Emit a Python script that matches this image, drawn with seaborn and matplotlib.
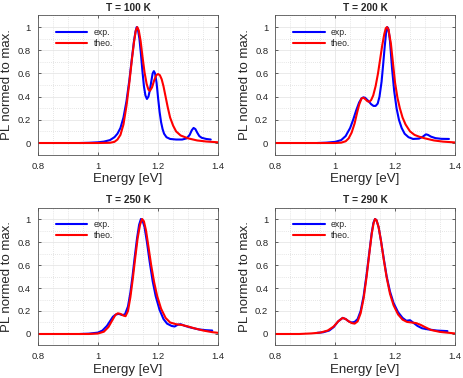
#!/usr/bin/python3
#
# PL spectra, experiment vs theory, at four temperatures

import pandas as pd
import seaborn as sns
import matplotlib.pyplot as plt
from matplotlib.ticker import MultipleLocator, FormatStrFormatter

temps = ["T = 100 K", "T = 200 K", "T = 250 K", "T = 290 K"]

# T = 100 K
exp100_e = [0.94, 0.97, 1.0, 1.02, 1.04, 1.055, 1.065, 1.075, 1.085, 1.095, 1.105, 1.113, 1.12, 1.125,
            1.129, 1.133, 1.138, 1.143, 1.148, 1.153, 1.158, 1.163, 1.168, 1.173, 1.178, 1.182, 1.186,
            1.19, 1.195, 1.2, 1.205, 1.21, 1.215, 1.22, 1.228, 1.24, 1.26, 1.28, 1.295, 1.305, 1.312,
            1.318, 1.324, 1.33, 1.337, 1.345, 1.36, 1.375]
exp100_i = [0.0, 0.002, 0.006, 0.012, 0.025, 0.05, 0.08, 0.13, 0.22, 0.36, 0.55, 0.73, 0.88, 0.96,
            1.0, 0.98, 0.9, 0.77, 0.62, 0.49, 0.41, 0.38, 0.40, 0.46, 0.54, 0.6, 0.62,
            0.6, 0.52, 0.39, 0.27, 0.18, 0.12, 0.08, 0.05, 0.035, 0.03, 0.03, 0.04, 0.07, 0.11,
            0.13, 0.12, 0.09, 0.06, 0.045, 0.035, 0.03]
theo100_e = [0.8, 0.9, 1.0, 1.04, 1.055, 1.065, 1.075, 1.085, 1.095, 1.105, 1.113, 1.12, 1.126, 1.131,
             1.136, 1.142, 1.148, 1.155, 1.162, 1.168, 1.173, 1.18, 1.187, 1.194, 1.2, 1.206, 1.212,
             1.218, 1.225, 1.232, 1.24, 1.25, 1.26, 1.275, 1.3, 1.33, 1.36, 1.4]
theo100_i = [0.0, 0.0, 0.0, 0.002, 0.01, 0.03, 0.07, 0.16, 0.32, 0.53, 0.72, 0.87, 0.97, 1.0,
             0.97, 0.88, 0.75, 0.61, 0.51, 0.46, 0.45, 0.48, 0.54, 0.585, 0.595, 0.585, 0.55,
             0.49, 0.4, 0.31, 0.22, 0.15, 0.1, 0.065, 0.04, 0.022, 0.013, 0.006]

# T = 200 K
exp200_e = [0.94, 0.97, 1.0, 1.02, 1.035, 1.05, 1.06, 1.07, 1.08, 1.088, 1.094, 1.1, 1.11, 1.12,
            1.128, 1.135, 1.142, 1.148, 1.155, 1.16, 1.165, 1.17, 1.174, 1.178, 1.183, 1.19, 1.197,
            1.205, 1.213, 1.222, 1.232, 1.245, 1.26, 1.28, 1.293, 1.303, 1.31, 1.32, 1.335, 1.355, 1.38]
exp200_i = [0.0, 0.003, 0.01, 0.025, 0.06, 0.13, 0.2, 0.28, 0.35, 0.385, 0.394, 0.39, 0.365, 0.335,
            0.32, 0.32, 0.34, 0.4, 0.53, 0.67, 0.82, 0.95, 1.0, 0.98, 0.88, 0.64, 0.45,
            0.3, 0.2, 0.13, 0.08, 0.05, 0.035, 0.038, 0.055, 0.075, 0.07, 0.055, 0.042, 0.036, 0.035]
theo200_e = [0.8, 0.9, 1.0, 1.02, 1.035, 1.045, 1.055, 1.065, 1.073, 1.08, 1.088, 1.095, 1.102, 1.108,
             1.114, 1.12, 1.127, 1.135, 1.143, 1.15, 1.157, 1.164, 1.169, 1.173, 1.178, 1.186, 1.193,
             1.2, 1.208, 1.216, 1.225, 1.235, 1.25, 1.265, 1.28, 1.3, 1.33, 1.36, 1.4]
theo200_i = [0.0, 0.0, 0.0, 0.003, 0.015, 0.04, 0.09, 0.17, 0.26, 0.33, 0.385, 0.39, 0.375, 0.36,
             0.356, 0.37, 0.41, 0.49, 0.6, 0.72, 0.84, 0.94, 0.99, 1.0, 0.98, 0.86, 0.69,
             0.52, 0.39, 0.3, 0.22, 0.16, 0.1, 0.07, 0.055, 0.04, 0.022, 0.012, 0.005]

# T = 250 K
exp250_e = [0.94, 0.97, 1.0, 1.015, 1.03, 1.04, 1.05, 1.06, 1.07, 1.08, 1.09, 1.1, 1.108, 1.115,
            1.122, 1.13, 1.137, 1.143, 1.148, 1.155, 1.163, 1.172, 1.182, 1.192, 1.205, 1.218, 1.23,
            1.245, 1.255, 1.265, 1.275, 1.29, 1.31, 1.335, 1.36, 1.38]
exp250_i = [0.0, 0.003, 0.012, 0.03, 0.07, 0.11, 0.15, 0.17, 0.175, 0.165, 0.17, 0.24, 0.36, 0.5,
            0.66, 0.83, 0.95, 1.0, 0.99, 0.93, 0.8, 0.63, 0.46, 0.33, 0.21, 0.13, 0.09,
            0.07, 0.065, 0.08, 0.085, 0.07, 0.055, 0.04, 0.033, 0.03]
theo250_e = [0.8, 0.9, 0.97, 1.0, 1.02, 1.035, 1.048, 1.058, 1.066, 1.075, 1.085, 1.092, 1.1, 1.108,
             1.116, 1.124, 1.132, 1.14, 1.147, 1.153, 1.16, 1.168, 1.177, 1.187, 1.197, 1.21, 1.225,
             1.24, 1.26, 1.28, 1.3, 1.32, 1.35, 1.38, 1.4]
theo250_i = [0.0, 0.0, 0.0, 0.004, 0.02, 0.06, 0.12, 0.165, 0.18, 0.175, 0.16, 0.155, 0.2, 0.32,
             0.48, 0.66, 0.83, 0.95, 1.0, 0.98, 0.9, 0.76, 0.6, 0.45, 0.33, 0.22, 0.14,
             0.1, 0.085, 0.078, 0.065, 0.05, 0.03, 0.016, 0.01]

# T = 290 K
exp290_e = [0.94, 0.96, 0.98, 0.995, 1.01, 1.025, 1.035, 1.045, 1.055, 1.065, 1.075, 1.085, 1.095,
            1.105, 1.115, 1.122, 1.128, 1.133, 1.138, 1.145, 1.153, 1.162, 1.172, 1.183, 1.195, 1.21,
            1.225, 1.238, 1.25, 1.26, 1.275, 1.29, 1.31, 1.34, 1.375]
exp290_i = [0.01, 0.015, 0.03, 0.06, 0.11, 0.14, 0.13, 0.11, 0.1, 0.105, 0.13, 0.2, 0.33,
            0.52, 0.73, 0.88, 0.97, 1.0, 0.99, 0.93, 0.81, 0.66, 0.5, 0.37, 0.27, 0.19,
            0.14, 0.115, 0.12, 0.1, 0.07, 0.05, 0.04, 0.03, 0.025]
theo290_e = [0.8, 0.88, 0.92, 0.95, 0.975, 0.995, 1.01, 1.025, 1.035, 1.045, 1.055, 1.065, 1.075,
             1.085, 1.095, 1.105, 1.115, 1.122, 1.128, 1.133, 1.138, 1.145, 1.153, 1.162, 1.172,
             1.183, 1.195, 1.21, 1.225, 1.24, 1.255, 1.27, 1.285, 1.3, 1.32, 1.35, 1.4]
theo290_i = [0.0, 0.0, 0.005, 0.012, 0.03, 0.065, 0.11, 0.14, 0.13, 0.11, 0.095, 0.09, 0.11,
             0.18, 0.31, 0.5, 0.72, 0.87, 0.96, 1.0, 0.99, 0.93, 0.81, 0.65, 0.49,
             0.35, 0.25, 0.17, 0.125, 0.105, 0.1, 0.095, 0.08, 0.06, 0.035, 0.018, 0.005]

exp_data = [(exp100_e, exp100_i), (exp200_e, exp200_i), (exp250_e, exp250_i), (exp290_e, exp290_i)]
theo_data = [(theo100_e, theo100_i), (theo200_e, theo200_i), (theo250_e, theo250_i), (theo290_e, theo290_i)]

sns.set_theme(style="ticks")
plt.rcParams['font.family'] = ['Liberation Sans', 'DejaVu Sans']

fig = plt.figure(figsize=(4.63, 3.78), dpi=100)
positions = [[0.0814, 0.591, 0.390, 0.368], [0.5946, 0.591, 0.388, 0.368],
             [0.0814, 0.086, 0.390, 0.365], [0.5946, 0.086, 0.388, 0.365]]

for i in range(4):
    ax = fig.add_axes(positions[i])
    ax.set_axisbelow(True)
    ex = pd.DataFrame({"E": exp_data[i][0], "PL": exp_data[i][1]})
    th = pd.DataFrame({"E": theo_data[i][0], "PL": theo_data[i][1]})
    sns.lineplot(data=ex, x="E", y="PL", ax=ax, color=(0, 0, 1), lw=1.5, label="exp.")
    sns.lineplot(data=th, x="E", y="PL", ax=ax, color=(1, 0, 0), lw=1.5, label="theo.")
    ax.set_xlim(0.8, 1.4)
    ax.set_ylim(-0.1, 1.1)
    ax.xaxis.set_major_locator(MultipleLocator(0.2))
    ax.xaxis.set_minor_locator(MultipleLocator(0.05))
    ax.yaxis.set_minor_locator(MultipleLocator(0.1))
    ax.set_yticks([0, 0.2, 0.4, 0.6, 0.8, 1])
    ax.xaxis.set_major_formatter(FormatStrFormatter('%g'))
    ax.yaxis.set_major_formatter(FormatStrFormatter('%g'))
    ax.grid(which='major', color='#e6e6e6', lw=0.6)
    ax.grid(which='minor', color='#cfcfcf', lw=0.5, ls=(0, (1, 2)))
    ax.tick_params(which='both', direction='in', top=True, right=True, labelsize=6.8,
                   length=2.5, width=0.5, colors='#262626', pad=5)
    ax.tick_params(which='minor', length=0)
    for s in ax.spines.values():
        s.set_color('#555555')
        s.set_linewidth(0.6)
    ax.set_xlabel("Energy [eV]", fontsize=9.5, color='#262626', labelpad=2)
    ax.set_ylabel("PL normed to max.", fontsize=9.5, color='#262626', labelpad=3)
    ax.set_title(temps[i], fontsize=7.3, fontweight='bold', pad=3)
    ax.legend(loc='upper left', frameon=False, fontsize=6.2, handlelength=3.7,
              handletextpad=0.7, labelspacing=0.25, borderaxespad=0.0,
              bbox_to_anchor=(0.08, 0.935))

fig.savefig('out.png', dpi=100)
